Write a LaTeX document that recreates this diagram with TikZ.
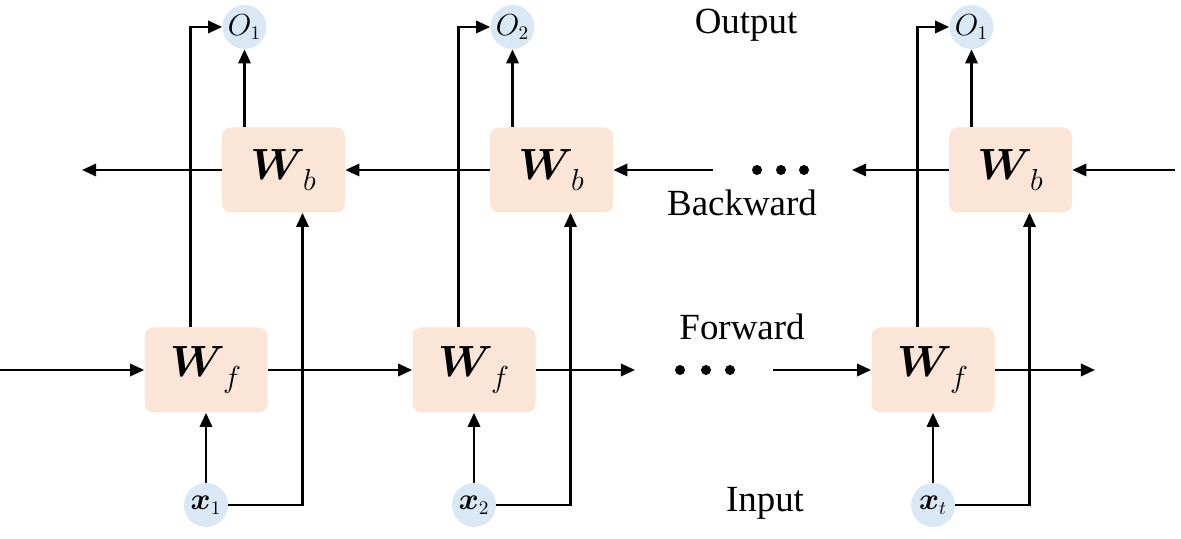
\documentclass[tikz,border=0pt]{standalone}
\usepackage{fontspec}
\usepackage{bm}
\setmainfont{Liberation Serif}
\usetikzlibrary{calc, positioning, arrows.meta}
\definecolor{cellFill}{HTML}{FBE5D6}
\definecolor{ioFill}{HTML}{DAE8F6}

\tikzset{
  cell/.style={rectangle, rounded corners=5pt, fill=cellFill, minimum width=2.46cm, minimum height=1.7cm, inner sep=0pt},
  io/.style={circle, fill=ioFill, minimum size=0.88cm, inner sep=0pt},
  flow/.style={line width=1.4pt, -{Triangle[length=8pt, width=7pt]}},
  lbl/.style={font=\fontsize{21}{25}\selectfont},
}
\newcommand{\cellname}[1]{{\fontsize{23}{28}\selectfont$\bm{W}_{\,\lower3pt\hbox{$\scriptstyle #1$}}$}}
\newcommand{\outname}[1]{{\fontsize{16}{19}\selectfont$O_{#1}$}}
\newcommand{\inname}[1]{{\fontsize{16}{19}\selectfont$\bm{x}_{#1}$}}

\begin{document}
\begin{tikzpicture}
    \useasboundingbox (0,0) rectangle (23.62,10.78);

    % one column per time step
    \foreach \c/\px/\osub/\xsub in {1/4.12/1/1, 2/9.48/2/2, 3/18.66/1/t} {
        \node[cell] (wf\c) at (\px, 3.38) {\cellname{f}};
        \node[cell] (wb\c) at ($(wf\c)+(1.55,4)$) {\cellname{b}};
        \node[io] (o\c) at ($(wf\c)+(0.77,6.86)$) {\outname{\osub}};
        \node[io] (x\c) at ($(wf\c)+(0,-2.7)$) {\inname{\xsub}};
        \draw[flow] (x\c) -- (wf\c);
        \draw[flow] (x\c.east) -| ($(wb\c.south)+(0.38,0)$);
        \draw[flow] ($(wf\c.north)+(-0.31,0)$) |- (o\c.west);
        \draw[flow] (o\c |- wb\c.north) -- (o\c);
    }

    % forward chain
    \coordinate (fin) at (0,3.38);
    \coordinate (fout) at (12.7,3.38);
    \coordinate (fin3) at (15.46,3.38);
    \coordinate (fend) at (21.9,3.38);
    \draw[flow] (fin) -- (wf1);
    \draw[flow] (wf1) -- (wf2);
    \draw[flow] (wf2) -- (fout);
    \draw[flow] (fin3) -- (wf3);
    \draw[flow] (wf3) -- (fend);
    \foreach \d in {13.6, 14.12, 14.6}
        \fill (\d, 3.38) circle (0.1);

    % backward chain
    \coordinate (bin) at (23.5,7.38);
    \coordinate (bout3) at (17.04,7.38);
    \coordinate (bin2) at (14.26,7.38);
    \coordinate (bend) at (1.64,7.38);
    \draw[flow] (bin) -- (wb3);
    \draw[flow] (wb3) -- (bout3);
    \draw[flow] (bin2) -- (wb2);
    \draw[flow] (wb2) -- (wb1);
    \draw[flow] (wb1) -- (bend);
    \foreach \d in {15.14, 15.62, 16.08}
        \fill (\d, 7.38) circle (0.1);

    \node[lbl] (outlbl) at (14.92, 10.28) {Output};
    \node[lbl] (backlbl) at (14.84, 6.72) {Backward};
    \node[lbl] (forlbl) at (14.84, 4.24) {Forward};
    \node[lbl] (inlbl) at (15.3, 0.72) {Input};
\end{tikzpicture}
\end{document}
